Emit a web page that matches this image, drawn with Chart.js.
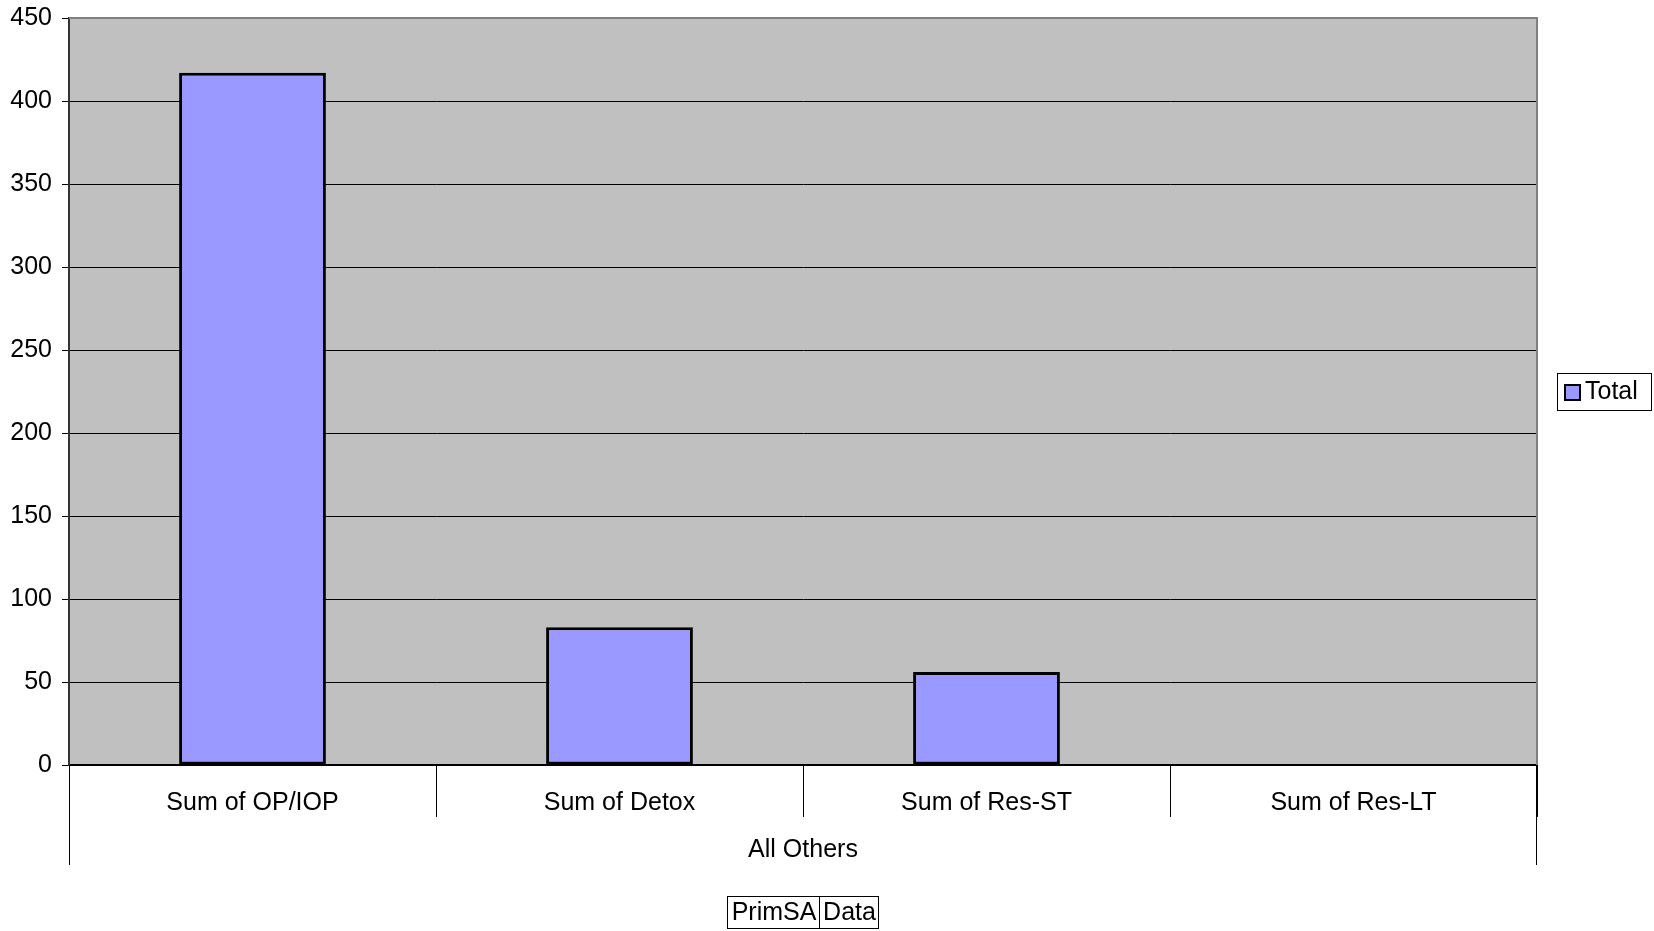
<!DOCTYPE html>
<html>
<head>
<meta charset="utf-8">
<script src="https://cdn.jsdelivr.net/npm/chart.js@4"></script>
<style>
  html, body { margin: 0; padding: 0; background: #fff; }
  #wrap { width: 1654px; height: 931px; }
</style>
</head>
<body>
<div id="wrap"><canvas id="chart" width="1654" height="931"></canvas></div>
<script>
/* PrimSA pivot chart — "Total" per category */
const categories = ['Sum of OP/IOP', 'Sum of Detox', 'Sum of Res-ST', 'Sum of Res-LT'];
const totals = [417, 83, 56, 0];
const seriesName = 'Total';
const groupLabel = 'All Others';
const fieldButtons = ['PrimSA', 'Data'];

const FONT = "'Liberation Sans', Arial, sans-serif";
const colors = {
  plotBg: '#C0C0C0',
  bar: '#9999FF',
  edge: '#000000',
  frame: '#808080'
};

// plot background, frame, category dividers, group label, legend, field buttons
const decorations = {
  id: 'decorations',
  beforeDraw(chart) {
    const { ctx, chartArea: a } = chart;
    ctx.save();
    ctx.fillStyle = colors.plotBg;
    ctx.fillRect(a.left, a.top, a.right - a.left, a.bottom - a.top);
    ctx.restore();
  },
  afterDraw(chart) {
    const { ctx, chartArea: a } = chart;
    const x = chart.scales.x;
    ctx.save();
    // top / right frame
    ctx.strokeStyle = colors.frame;
    ctx.lineWidth = 2;
    ctx.beginPath();
    ctx.moveTo(a.left, a.top);
    ctx.lineTo(a.right, a.top);
    ctx.lineTo(a.right, a.bottom);
    ctx.stroke();

    // outer dividers run down past the group label
    ctx.strokeStyle = '#000';
    ctx.lineWidth = 1;
    ctx.beginPath();
    [a.left + 0.5, a.right - 0.5].forEach(px => {
      ctx.moveTo(px, a.bottom);
      ctx.lineTo(px, a.bottom + 100);
    });
    ctx.stroke();

    ctx.fillStyle = '#000';
    ctx.font = '25px ' + FONT;
    ctx.textAlign = 'center';
    ctx.textBaseline = 'middle';
    ctx.fillText(groupLabel, (x.left + x.right) / 2, 850);

    // legend
    const lx = 1557, ly = 373, lw = 94, lh = 37;
    ctx.strokeStyle = '#000';
    ctx.lineWidth = 1;
    ctx.fillStyle = '#fff';
    ctx.fillRect(lx, ly, lw, lh);
    ctx.strokeRect(lx + 0.5, ly + 0.5, lw, lh);
    ctx.fillStyle = colors.bar;
    ctx.fillRect(lx + 8, ly + 12, 15, 15);
    ctx.lineWidth = 2;
    ctx.strokeRect(lx + 8, ly + 12, 15, 15);
    ctx.fillStyle = '#000';
    ctx.textAlign = 'left';
    ctx.fillText(seriesName, lx + 28, ly + lh / 2 + 1);

    // field buttons
    const widths = [92, 59];
    let bx = 727;
    const by = 896, bh = 32;
    ctx.lineWidth = 1;
    fieldButtons.forEach((t, i) => {
      ctx.strokeStyle = '#000';
      ctx.strokeRect(bx + 0.5, by + 0.5, widths[i], bh);
      ctx.textAlign = 'center';
      ctx.fillText(t, bx + widths[i] / 2 + 1, by + bh / 2 + 1);
      bx += widths[i];
    });
    ctx.restore();
  }
};

new Chart(document.getElementById('chart'), {
  type: 'bar',
  data: {
    labels: categories,
    datasets: [{
      label: seriesName,
      data: totals,
      backgroundColor: colors.bar,
      borderColor: colors.edge,
      borderWidth: 3,
      borderSkipped: false,
      barPercentage: 0.4,
      categoryPercentage: 1.0
    }]
  },
  options: {
    responsive: false,
    devicePixelRatio: 1,
    animation: false,
    layout: { padding: { top: 18, right: 117, left: 0, bottom: 0 } },
    plugins: {
      legend: { display: false },
      tooltip: { enabled: false }
    },
    scales: {
      x: {
        offset: true,
        afterFit: s => { s.height = 166; s.paddingLeft = 0; s.paddingRight = 0; },
        grid: { offset: true, drawOnChartArea: false, drawTicks: true, tickLength: 52, color: '#000', lineWidth: 1 },
        border: { display: true, color: '#000', width: 2 },
        ticks: { color: '#000', font: { family: FONT, size: 25 }, padding: -29, maxRotation: 0, autoSkip: false }
      },
      y: {
        min: 0, max: 450,
        afterFit: s => { s.width = 69; s.paddingTop = 0; s.paddingBottom = 0; },
        grid: { color: '#000', lineWidth: 1, tickLength: 7 },
        border: { display: true, color: '#333', width: 2 },
        ticks: { stepSize: 50, color: '#000', font: { family: FONT, size: 25 }, padding: 10 }
      }
    }
  },
  plugins: [decorations]
});
</script>
</body>
</html>
